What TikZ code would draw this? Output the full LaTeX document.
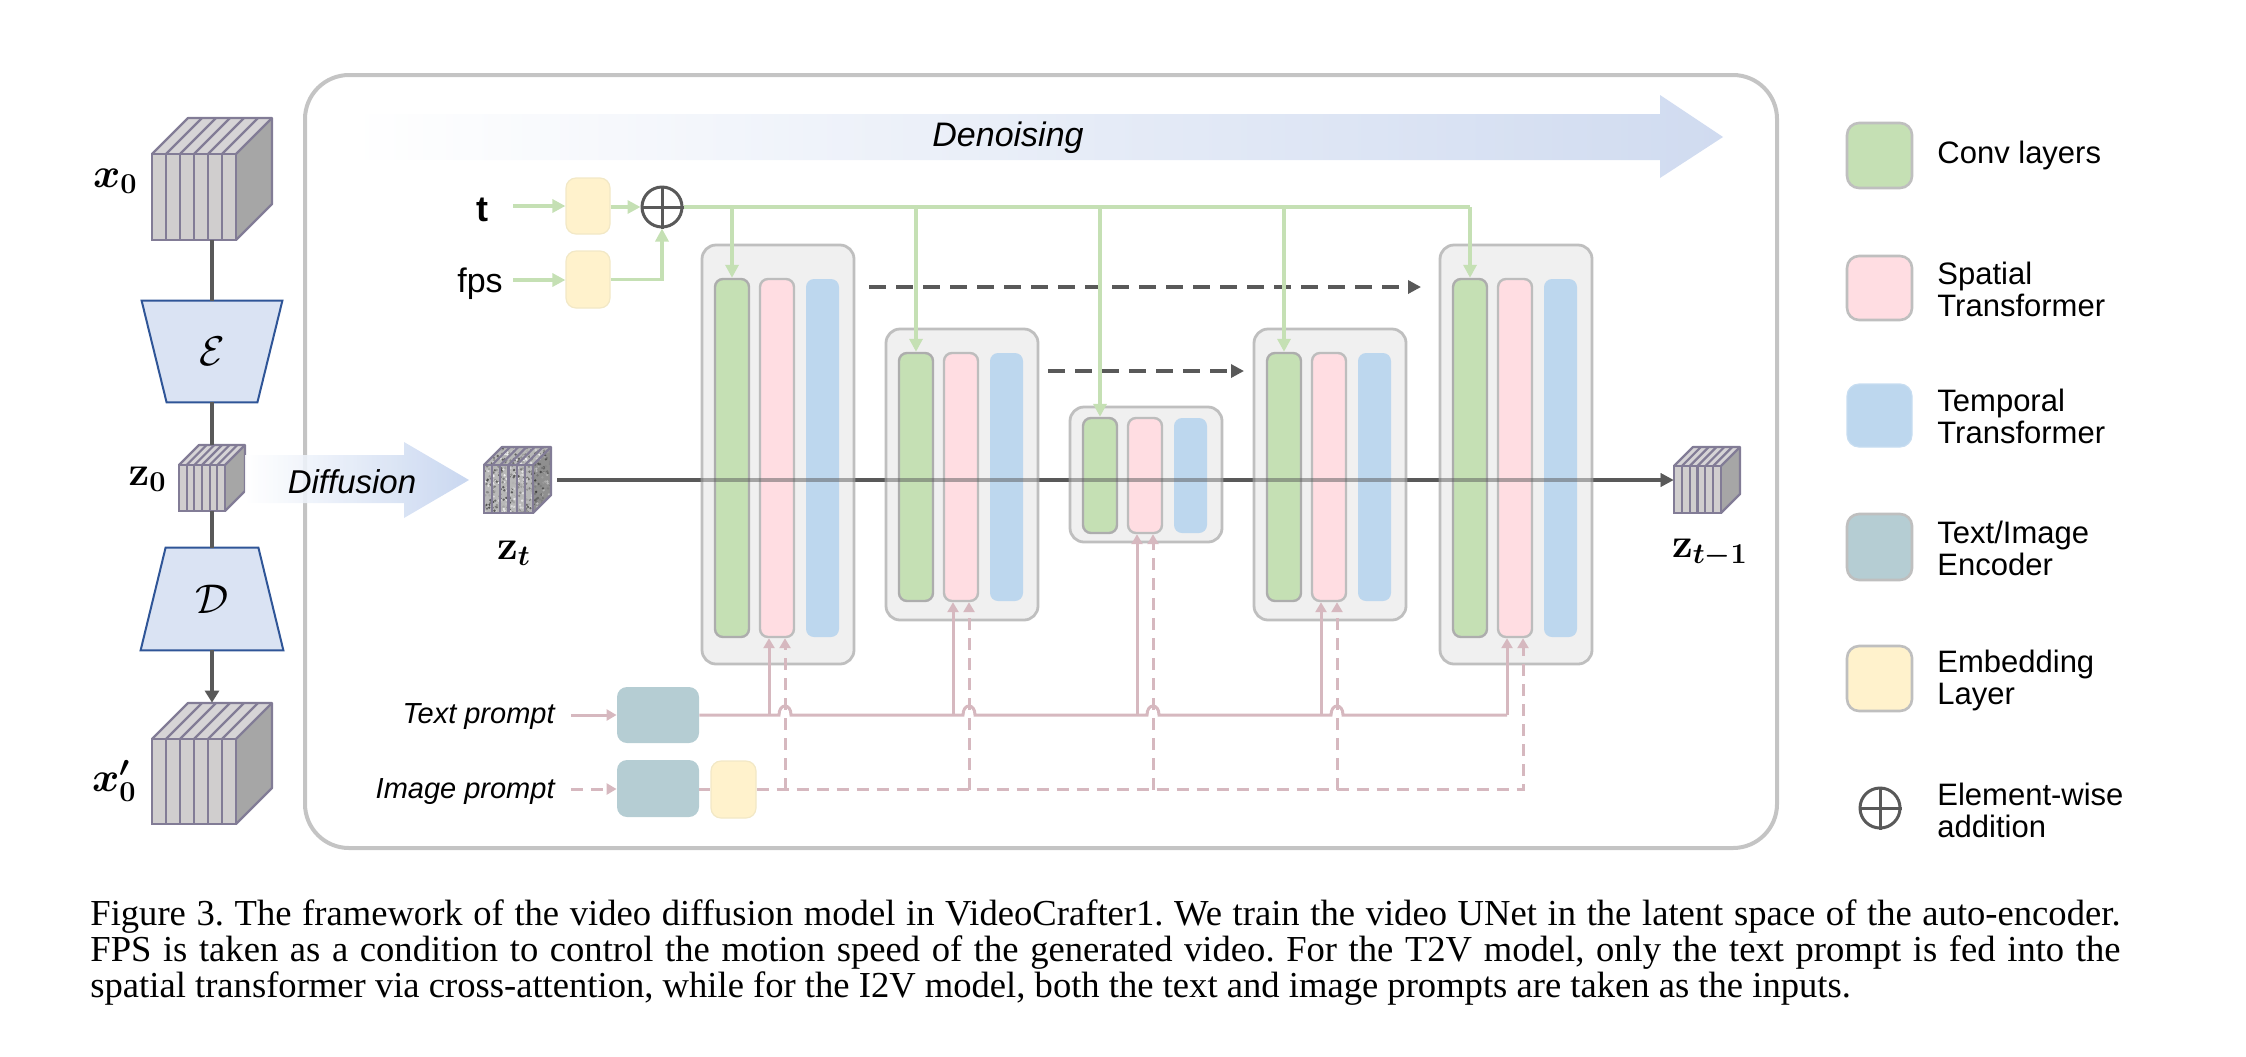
\documentclass[tikz,border=0pt]{standalone}
\usepackage{amsmath}
\usepackage{bm}
\usepackage[no-math]{fontspec}
\setmainfont{Liberation Sans}
\newfontfamily\capfont{Liberation Serif}
\usetikzlibrary{arrows.meta,calc,fit}

\definecolor{framegray}{HTML}{C4C4C4}
\definecolor{blockfill}{HTML}{F0F0F0}
\definecolor{blockdraw}{HTML}{BFBFBF}
\definecolor{bardraw}{HTML}{ADADAD}
\definecolor{convfill}{HTML}{C5E0B4}
\definecolor{spatfill}{HTML}{FFDDE2}
\definecolor{tempfill}{HTML}{BDD7EE}
\definecolor{encfill}{HTML}{B5CDD3}
\definecolor{embfill}{HTML}{FFF2CC}
\definecolor{embdraw}{HTML}{F2E8C6}
\definecolor{greenc}{HTML}{C5E0B4}
\definecolor{pinkc}{HTML}{D6B8BF}
\definecolor{darkline}{HTML}{595959}
\definecolor{cubeline}{HTML}{827C96}
\definecolor{cubefront}{HTML}{D0CECE}
\definecolor{cubetop}{HTML}{D6D4D6}
\definecolor{cuberight}{HTML}{A6A6A6}
\definecolor{trapfill}{HTML}{DAE3F3}
\definecolor{trapdraw}{HTML}{2F5597}
\definecolor{denoblue}{HTML}{D0DBF0}
\definecolor{diffblue}{HTML}{C2D2EE}

\tikzset{
  cubestroke/.style={draw=cubeline, line width=1.1pt},
  trapshape/.style={draw=trapdraw, fill=trapfill, line width=1pt, line join=miter},
  blk/.style={draw=blockdraw, fill=blockfill, line width=1.4pt, rounded corners=7pt, inner sep=0pt},
  convbar/.style={draw=bardraw, fill=convfill, line width=1.2pt, rounded corners=4pt, inner sep=0pt},
  spatbar/.style={draw=bardraw!80!white, fill=spatfill, line width=1.2pt, rounded corners=4pt, inner sep=0pt},
  tempbar/.style={draw=none, fill=tempfill, rounded corners=4pt, inner sep=0pt},
  encbox/.style={draw=none, fill=encfill, rounded corners=5pt, inner sep=0pt},
  embbox/.style={draw=embdraw, fill=embfill, line width=0.6pt, rounded corners=5pt, inner sep=0pt},
  legsq/.style={draw=blockdraw, line width=1.3pt, rounded corners=6pt, inner sep=0pt},
  greenl/.style={draw=greenc, line width=1.7pt},
  greenarr/.style={greenl, -{Triangle[length=6.5pt,width=6.5pt]}},
  pinkl/.style={draw=pinkc, line width=1.5pt},
  pinkarr/.style={pinkl, -{Triangle[length=5pt,width=5.5pt]}},
  pinkdash/.style={pinkl, dash pattern=on 6pt off 4pt},
  pinkdasharr/.style={pinkdash, -{Triangle[length=5pt,width=5.5pt]}},
  mainl/.style={draw=darkline, line width=2pt, -{Triangle[length=6.5pt,width=6.5pt]}},
  skiparr/.style={draw=darkline, line width=2pt, dash pattern=on 8.5pt off 5pt, -{Triangle[length=6.5pt,width=6.5pt]}},
  plusnode/.style={circle, draw=darkline, line width=1.5pt, minimum size=20pt, inner sep=0pt},
  plusbar/.style={draw=darkline, line width=1.5pt},
  legtext/.style={anchor=west, align=left, inner sep=0pt, font=\fontsize{15.5}{16}\selectfont},
  mathlab/.style={inner sep=0pt, font=\fontsize{20}{22}\selectfont},
  promptlab/.style={anchor=base east, inner sep=0pt, font=\itshape\fontsize{14.5}{16}\selectfont},
  caplab/.style={anchor=base west, inner sep=0pt, font=\capfont\fontsize{18.3}{18}\selectfont\frenchspacing}
}

\newcommand\cubefaces[5]{%
  \fill[cubefront] (#1,#2) rectangle ++(#3,#4);
  \fill[cubetop] (#1,#2) -- ++(#5,-#5) -- ++(#3,0) -- ++(-#5,#5) -- cycle;
  \fill[cuberight] (#1+#3,#2) -- ++(#5,-#5) -- ++(0,#4) -- ++(-#5,#5) -- cycle;
}
\newcommand\cubelines[5]{%
  \foreach \i in {1,...,5}{%
    \draw[cubestroke] ({#1+\i*#3/6},#2) -- ++(0,#4);
    \draw[cubestroke] ({#1+\i*#3/6},#2) -- ++(#5,-#5);
  }
  \draw[cubestroke] (#1,#2) rectangle ++(#3,#4);
  \draw[cubestroke, line join=round] (#1,#2) -- ++(#5,-#5) -- ++(#3,0) -- ++(0,#4) -- ++(-#5,#5);
  \draw[cubestroke] (#1+#3,#2) -- ++(#5,-#5);
}
\newcommand\cubenode[6]{\node[fit={(#1,#2-#5) (#1+#3+#5,#2+#4)}, inner sep=0pt] (#6) {};}

\begin{document}
\begin{tikzpicture}[x=0.5pt,y=-0.5pt]
\useasboundingbox (0,0) rectangle (2246,1056);

% ---------- frame ----------
\node[fit={(305,75) (1777,848)}, draw=framegray, line width=2pt, rounded corners=22pt, inner sep=0pt] (frame) {};

% ---------- denoising arrow ----------
\shade[left color=white, right color=denoblue] (350,114) -- (1660,114) -- (1660,95) -- (1723,137) -- (1660,178) -- (1660,160) -- (350,160) -- cycle;
\node[inner sep=0pt, font=\itshape\fontsize{17}{18}\selectfont] (denoise) at (1008,138) {Denoising};

% ---------- left column ----------
\cubefaces{152}{154}{84}{86}{36}
\cubelines{152}{154}{84}{86}{36}
\cubenode{152}{154}{84}{86}{36}{x0}

\node[fit={(142,301) (282,402)}, inner sep=0pt] (enc) {};
\draw[trapshape] (enc.north west) -- (enc.north east) -- ($(enc.south east)+(-25,0)$) -- ($(enc.south west)+(25,0)$) -- cycle;
\node[mathlab] (enclab) at (enc.center) {$\mathcal{E}$};

\cubefaces{179}{465}{46}{46}{20}
\cubelines{179}{465}{46}{46}{20}
\cubenode{179}{465}{46}{46}{20}{z0}

\node[fit={(141,548) (283,650)}, inner sep=0pt] (dec) {};
\draw[trapshape] ($(dec.north west)+(25,0)$) -- ($(dec.north east)+(-25,0)$) -- (dec.south east) -- (dec.south west) -- cycle;
\node[mathlab] (declab) at (dec.center) {$\mathcal{D}$};

\cubefaces{152}{739}{84}{85}{36}
\cubelines{152}{739}{84}{85}{36}
\cubenode{152}{739}{84}{85}{36}{x0p}

\draw[draw=darkline, line width=1.6pt] (x0.south) -- (enc.north);
\draw[draw=darkline, line width=1.6pt] (enc.south) -- (z0.north);
\draw[draw=darkline, line width=1.6pt] (z0.south) -- (dec.north);
\draw[draw=darkline, line width=1.6pt, -{Triangle[length=6pt,width=7pt]}] (dec.south) -- (x0p.north);

\node[mathlab, anchor=east] (x0lab) at (138,181) {$\boldsymbol{x}_{\mathbf{0}}$};
\node[mathlab, anchor=east] (z0lab) at (167,479) {$\mathbf{z}_{\mathbf{0}}$};
\node[mathlab, anchor=east] (x0plab) at (137,781) {$\boldsymbol{x}^{\boldsymbol{\prime}}_{\mathbf{0}}$};

% ---------- diffusion arrow ----------
\shade[left color=white, right color=diffblue, opacity=0.88] (245,455) -- (404,455) -- (404,442) -- (469,480) -- (404,518) -- (404,503) -- (245,503) -- cycle;
\node[inner sep=0pt, font=\itshape\fontsize{16.5}{18}\selectfont] (difflab) at (352,482) {Diffusion};

% ---------- z_t noisy cube ----------
\begin{scope}
  \clip (484,465) -- (502,447) -- (551,447) -- (551,495) -- (533,513) -- (484,513) -- cycle;
  \fill[black!28] (484,447) rectangle (551,513);
  \pgfmathsetseed{7}
  \foreach \k in {1,...,450}{%
    \pgfmathsetmacro\rx{484+67*rnd}%
    \pgfmathsetmacro\ry{447+66*rnd}%
    \pgfmathtruncatemacro\rg{4+66*rnd}%
    \fill[black!\rg] (\rx,\ry) circle[radius=1.3];
  }
  \fill[black, opacity=0.22] (533,465) -- (551,447) -- (551,495) -- (533,513) -- cycle;
\end{scope}
\cubelines{484}{465}{49}{48}{18}
\cubenode{484}{465}{49}{48}{18}{zt}
\node[mathlab] (ztlab) at (514,553) {$\mathbf{z}_{\boldsymbol{t}}$};

% ---------- z_{t-1} cube ----------
\cubefaces{1674}{466}{47}{47}{19}
\cubelines{1674}{466}{47}{47}{19}
\cubenode{1674}{466}{47}{47}{19}{ztm}
\node[mathlab] (ztmlab) at (1710,553) {$\mathbf{z}_{\boldsymbol{t-1}}$};

% ---------- main line (under blocks) ----------
\draw[mainl, shorten <=3pt] (zt.east) -- (zt.east -| ztm.west);

% ---------- UNet blocks ----------
\foreach \i/\L/\ot/\ob/\bt/\bb in {1/702/245/664/279/637,2/886/329/620/353/601,3/1070/407/542/418/533,4/1254/329/620/353/601,5/1440/245/664/279/637}{
  \node[blk, fit={(\L,\ot) (\L+152,\ob)}] (blk\i) {};
  \node[convbar, fit={(\L+13,\bt) (\L+47,\bb)}] (cv\i) {};
  \node[spatbar, fit={(\L+58,\bt) (\L+92,\bb)}] (sp\i) {};
  \node[tempbar, fit={(\L+104,\bt) (\L+137,\bb)}] (tm\i) {};
}
% main line seen through blocks
\draw[mainl, shorten <=3pt, draw opacity=0.5, fill opacity=0.5] (zt.east) -- (zt.east -| ztm.west);

% ---------- skip connections ----------
\coordinate (s1a) at (869,287);
\coordinate (s1b) at (1421,287);
\coordinate (s2a) at (1048,371);
\coordinate (s2b) at (1244,371);
\draw[skiparr] (s1a) -- (s1b);
\draw[skiparr] (s2a) -- (s2b);

% ---------- t / fps embedding ----------
\node[inner sep=0pt, anchor=base, font=\bfseries\fontsize{18}{20}\selectfont] (tlab) at (482,221) {t};
\node[inner sep=0pt, anchor=base, font=\fontsize{17}{18}\selectfont] (fpslab) at (480,292) {fps};
\node[embbox, fit={(566,178) (610,234)}] (temb) {};
\node[embbox, fit={(566,251) (610,308)}] (femb) {};
\node[plusnode] (oplus) at (662,207) {};
\draw[plusbar] (oplus.north) -- (oplus.south);
\draw[plusbar] (oplus.west) -- (oplus.east);
\coordinate (tin) at (513,206);
\coordinate (fin) at (513,280);
\draw[greenarr] (tin) -- (tin -| temb.west);
\draw[greenarr] (fin) -- (fin -| femb.west);
\draw[greenarr] (temb.east |- oplus.west) -- (oplus.west);
\draw[greenarr] (femb.east) -| (oplus.south);
\draw[greenl] (oplus.east) -- (oplus.east -| cv5.north);
\foreach \i in {1,...,5}{
  \draw[greenarr] (cv\i.north |- oplus.east) -- (cv\i.north);
}

% ---------- prompts ----------
\node[promptlab] (tplab) at (555,723) {Text prompt};
\node[promptlab] (iplab) at (555,798) {Image prompt};
\node[encbox, fit={(617,687) (699,743)}] (txtenc) {};
\node[encbox, fit={(617,760) (699,817)}] (imgenc) {};
\node[embbox, fit={(711,761) (756,818)}] (imgemb) {};
\coordinate (tpin) at (571,715);
\coordinate (ipin) at (571,789);
\draw[pinkarr] (tpin) -- (tpin -| txtenc.west);
\draw[pinkdasharr] (ipin) -- (ipin -| imgenc.west);
\draw[pinkdash] (imgenc.east |- imgemb.west) -- (imgemb.west);

% dashed image path
\foreach \i in {1,...,4}{
  \draw[pinkdasharr] ([xshift=4pt]sp\i.south |- imgemb.east) -- ([xshift=4pt]sp\i.south);
}
\draw[pinkdasharr] (imgemb.east) -- ([xshift=4pt]sp5.south |- imgemb.east) -- ([xshift=4pt]sp5.south);

% solid text path with hops
\draw[pinkl] (txtenc.east)
  \foreach \i in {1,...,4}{
    -- ([xshift=1pt]sp\i.south |- txtenc.east) .. controls +(0,-12) and +(0,-12) .. ([xshift=7pt]sp\i.south |- txtenc.east)
  }
  -- ([xshift=-4pt]sp5.south |- txtenc.east);
\foreach \i in {1,...,5}{
  \draw[pinkarr] ([xshift=-4pt]sp\i.south |- txtenc.east) -- ([xshift=-4pt]sp\i.south);
}

% ---------- legend ----------
\node[legsq, fill=convfill, fit={(1847,123) (1912,188)}] (lg1) {};
\node[legsq, fill=spatfill, fit={(1847,256) (1912,320)}] (lg2) {};
\node[legsq, draw=tempfill!85!white, line width=0.6pt, fill=tempfill, fit={(1847,384) (1912,447)}] (lg3) {};
\node[legsq, fill=encfill, fit={(1847,514) (1912,580)}] (lg4) {};
\node[legsq, fill=embfill, fit={(1847,646) (1912,711)}] (lg5) {};
\node[plusnode] (lg6) at (1880,808) {};
\draw[plusbar] (lg6.north) -- (lg6.south);
\draw[plusbar] (lg6.west) -- (lg6.east);

\node[legtext] (lt1) at (1937,155) {Conv layers};
\node[legtext] (lt2) at (1937,289) {Spatial\\Transformer};
\node[legtext] (lt3) at (1937,416) {Temporal\\Transformer};
\node[legtext] (lt4) at (1937,548) {Text/Image\\Encoder};
\node[legtext] (lt5) at (1937,680) {Embedding\\Layer};
\node[legtext] (lt6) at (1937,810) {Element-wise\\addition};

% ---------- caption ----------
\node[caplab] (cap1) at (90,925) {\makebox[1015pt][s]{Figure 3. The framework of the video diffusion model in VideoCrafter1. We train the video UNet in the latent space of the auto-encoder.}};
\node[caplab] (cap2) at (90,961) {\makebox[1015pt][s]{FPS is taken as a condition to control the motion speed of the generated video. For the T2V model, only the text prompt is fed into the}};
\node[caplab] (cap3) at (90,997) {spatial transformer via cross-attention, while for the I2V model, both the text and image prompts are taken as the inputs.};
\end{tikzpicture}
\end{document}
